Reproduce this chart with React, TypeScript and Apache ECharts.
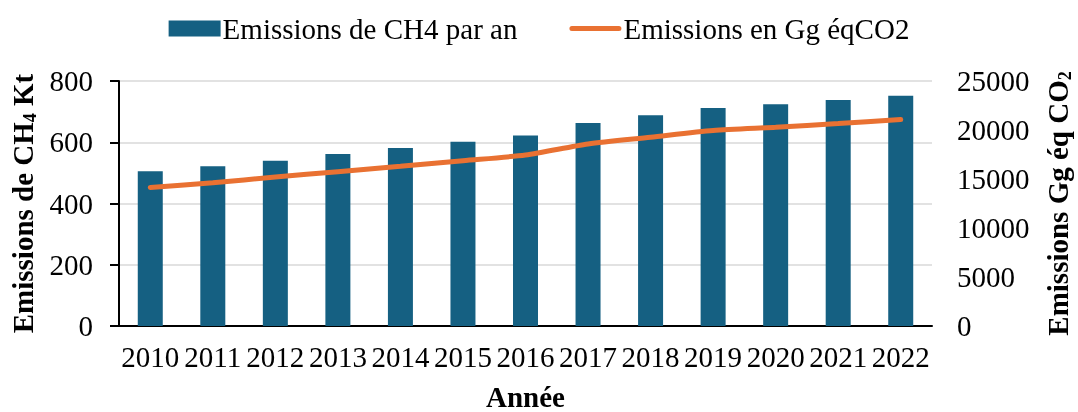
import React, { useEffect, useRef } from "react";
import * as echarts from "echarts";

const years = ["2010", "2011", "2012", "2013", "2014", "2015", "2016", "2017", "2018", "2019", "2020", "2021", "2022"];
const ch4Kt = [505, 522, 540, 562, 581, 602, 622, 663, 688, 712, 724, 738, 752];
const co2Eq = [14140, 14610, 15200, 15750, 16300, 16870, 17450, 18580, 19260, 19940, 20280, 20660, 21060];
const leftTicks = { min: 0, max: 800, interval: 200 };
const rightTicks = { min: 0, max: 25000, interval: 5000 };

const FONT = "'Liberation Serif', 'Times New Roman', serif";
const BLUE = "#156082";
const ORANGE = "#E97132";
const LINE_ICON = "path://M2.5,0 H49.5 A2.5,2.5 0 0 1 49.5,5 H2.5 A2.5,2.5 0 0 1 2.5,0 Z";

export default function App() {
  const ref = useRef<HTMLDivElement>(null);
  useEffect(() => {
    document.body.style.margin = "0";
    const chart = echarts.init(ref.current!, undefined, { renderer: "svg" });
    const nameStyle = {
      fontFamily: FONT,
      fontSize: 29,
      fontWeight: "bold",
      color: "#000",
      rich: {
        sub: { fontFamily: FONT, fontSize: 18, fontWeight: "bold", color: "#000", verticalAlign: "bottom", padding: [14, 0, 0, 0] },
      },
    };
    chart.setOption({
      animation: false,
      textStyle: { fontFamily: FONT, color: "#000" },
      legend: {
        top: 9,
        left: "center",
        itemGap: 52,
        itemWidth: 52,
        itemHeight: 16,
        symbolKeepAspect: true,
        textStyle: { fontFamily: FONT, fontSize: 29, color: "#000", padding: [0, 0, 0, -3] },
        data: [
          { name: "Emissions de CH4 par an", icon: "rect" },
          { name: "Emissions en Gg éqCO2", icon: LINE_ICON, itemStyle: { color: ORANGE } },
        ],
      },
      grid: { left: 119, right: 146, top: 81, bottom: 86, outerBoundsMode: "none", containLabel: false },
      xAxis: {
        type: "category",
        data: years,
        name: "Année",
        nameLocation: "middle",
        nameGap: 56,
        nameTextStyle: { fontFamily: FONT, fontSize: 29, fontWeight: "bold", color: "#000" },
        axisLine: { lineStyle: { color: "#000", width: 2 } },
        axisTick: { show: false },
        axisLabel: { fontFamily: FONT, fontSize: 29, color: "#000", margin: 16, interval: 0 },
      },
      yAxis: [
        {
          type: "value",
          ...leftTicks,
          name: "Emissions de CH{sub|4} Kt",
          nameLocation: "middle",
          nameGap: 70,
          nameTextStyle: nameStyle,
          axisLine: { show: true, lineStyle: { color: "#000", width: 2 } },
          axisTick: { show: true, length: 9, lineStyle: { color: "#000", width: 2 } },
          axisLabel: { fontFamily: FONT, fontSize: 29, color: "#000", margin: 26 },
          splitLine: { lineStyle: { color: "#d9d9d9", width: 1.5 } },
        },
        {
          type: "value",
          ...rightTicks,
          name: "Emissions Gg éq CO{sub|2}",
          nameLocation: "middle",
          nameGap: 110,
          nameRotate: 90,
          nameTextStyle: nameStyle,
          axisLine: { show: false },
          axisTick: { show: false },
          axisLabel: { fontFamily: FONT, fontSize: 29, color: "#000", margin: 25, formatter: (v: number) => String(v) },
          splitLine: { show: false },
        },
      ],
      series: [
        {
          name: "Emissions de CH4 par an",
          type: "bar",
          data: ch4Kt,
          barWidth: 25,
          itemStyle: { color: BLUE },
          yAxisIndex: 0,
        },
        {
          name: "Emissions en Gg éqCO2",
          type: "line",
          data: co2Eq,
          yAxisIndex: 1,
          symbol: "none",
          smooth: 0.25,
          lineStyle: { color: ORANGE, width: 5, cap: "round" },
          itemStyle: { color: ORANGE },
        },
      ],
    });
    return () => chart.dispose();
  }, []);
  return <div ref={ref} style={{ position: "fixed", left: 0, top: 0, width: 1078, height: 412 }} />;
}
